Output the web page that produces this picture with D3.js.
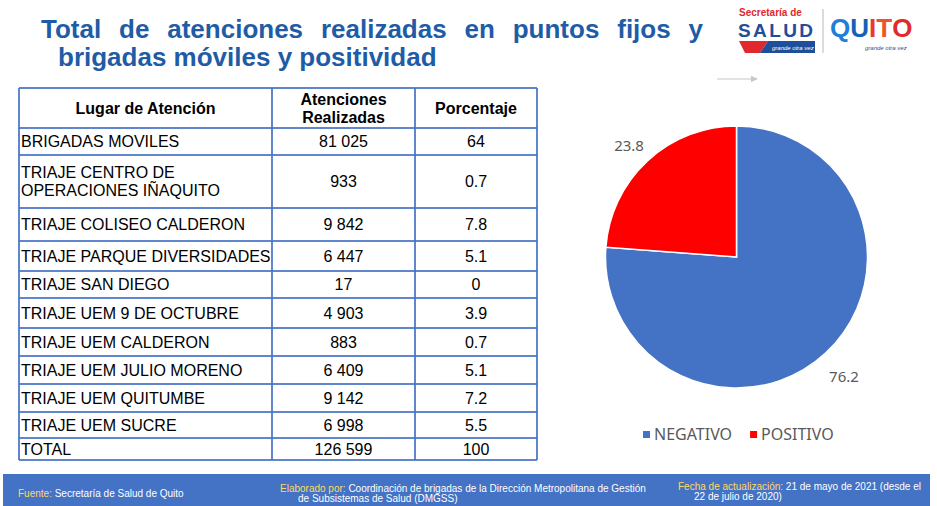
<!DOCTYPE html>
<html>
<head>
<meta charset="utf-8">
<script src="https://cdn.jsdelivr.net/npm/d3@7"></script>
<style>
  body { margin: 0; background: #fff; }
  svg { display: block; }
</style>
</head>
<body>
<div id="chart"></div>
<script>
const svgWidth = 937
const svgHeight = 506

// table data
const lugares = [
  "BRIGADAS MOVILES",
  "TRIAJE CENTRO DE\nOPERACIONES IÑAQUITO",
  "TRIAJE COLISEO CALDERON",
  "TRIAJE PARQUE DIVERSIDADES",
  "TRIAJE SAN DIEGO",
  "TRIAJE UEM 9 DE OCTUBRE",
  "TRIAJE UEM CALDERON",
  "TRIAJE UEM JULIO MORENO",
  "TRIAJE UEM QUITUMBE",
  "TRIAJE UEM SUCRE",
  "TOTAL"
]
const atenciones = [81025, 933, 9842, 6447, 17, 4903, 883, 6409, 9142, 6998, 126599]
const porcentajes = [64, 0.7, 7.8, 5.1, 0, 3.9, 0.7, 5.1, 7.2, 5.5, 100]
const encabezados = ["Lugar de Atención", "Atenciones\nRealizadas", "Porcentaje"]

// pie data
const resultados = ["NEGATIVO", "POSITIVO"]
const positividad = [76.2, 23.8]

// layout of the table (header + rows)
const colEdges = [19, 272, 415, 537]
const rowHeights = [40, 27, 53, 33, 30, 27, 30, 28, 28, 28, 26, 22]
const tableTop = 88

const blue = "#4472C4"
const titleBlue = "#1F5CA6"

const locale = d3.formatLocale({ decimal: ".", thousands: " ", grouping: [3], currency: ["", ""] })
const fmt = locale.format(",")

let svg = d3.select("#chart")
  .append("svg")
  .attr("width", svgWidth)
  .attr("height", svgHeight)
  .style("font-family", "Arial, 'Liberation Sans', sans-serif")

// ---- title, justified first line
const title1 = "Total de atenciones realizadas en puntos fijos y"
const title2 = "brigadas móviles y positividad"
let titleG = svg.append("g")
  .attr("fill", titleBlue)
  .style("font-size", "26px")
  .style("font-weight", "bold")

let words = title1.split(" ")
let wordNodes = words.map(w => titleG.append("text").attr("y", 38).text(w))
let widths = wordNodes.map(n => n.node().getComputedTextLength())
let gap = (703 - 41 - d3.sum(widths)) / (words.length - 1)
let xCursor = 41
wordNodes.forEach((n, i) => {
  n.attr("x", xCursor)
  xCursor += widths[i] + gap
})
titleG.append("text").attr("x", 58).attr("y", 66).text(title2)

// ---- logo
let logo = svg.append("g")
logo.append("text")
  .attr("x", 739).attr("y", 16)
  .attr("fill", "#E0282E")
  .style("font-family", "'Liberation Sans Narrow', 'Arial Narrow', sans-serif")
  .style("font-size", "10px").style("font-weight", "bold")
  .text("Secretaría de")
logo.append("text")
  .attr("x", 738).attr("y", 37)
  .attr("fill", "#1F4E9A")
  .style("font-size", "19px").style("font-weight", "bold")
  .attr("textLength", 75)
  .text("SALUD")
logo.append("path").attr("d", "M739,41 L768,41 L760,53 L745,53 Z").attr("fill", "#E0282E")
logo.append("path").attr("d", "M768,41 L815,41 L815,53 L760,53 Z").attr("fill", "#1F4E9A")
logo.append("text")
  .attr("x", 772).attr("y", 50)
  .attr("fill", "#fff")
  .style("font-size", "6px").style("font-style", "italic")
  .text("grande otra vez")
logo.append("line")
  .attr("x1", 823).attr("x2", 823).attr("y1", 9).attr("y2", 53)
  .attr("stroke", "#b8b8b8")

// QUITO wordmark, one letter per colour
const quitoColors = ["#1E7FD6", "#1560B8", "#E53935", "#F0522A", "#E02A2F"]
let qx = 830
"QUITO".split("").forEach((c, i) => {
  let t = logo.append("text")
    .attr("x", qx).attr("y", 37)
    .attr("fill", quitoColors[i])
    .style("font-size", "26px").style("font-weight", "bold")
    .style("font-family", "'Liberation Sans', Arial, sans-serif")
    .text(c)
  qx += t.node().getComputedTextLength()
})
logo.append("text")
  .attr("x", 865).attr("y", 50)
  .attr("fill", "#1F4E9A")
  .style("font-size", "6px").style("font-style", "italic")
  .text("grande otra vez")

// small arrow under logo
svg.append("defs").append("marker")
  .attr("id", "arrowhead")
  .attr("viewBox", "0 0 10 10")
  .attr("refX", 9).attr("refY", 5)
  .attr("markerWidth", 6).attr("markerHeight", 6)
  .attr("orient", "auto")
  .append("path").attr("d", "M0,0 L10,5 L0,10 Z").attr("fill", "#c8c8c8")
svg.append("line")
  .attr("x1", 717).attr("x2", 757).attr("y1", 79).attr("y2", 79)
  .attr("stroke", "#c8c8c8").attr("stroke-width", 1.2)
  .attr("marker-end", "url(#arrowhead)")

// ---- table
let rowEdges = [tableTop]
rowHeights.forEach(h => rowEdges.push(rowEdges[rowEdges.length - 1] + h))

let table = svg.append("g")

function multiline(sel, txt, cx, cy, anchor, lineH) {
  let lines = txt.split("\n")
  lines.forEach((l, i) => {
    sel.append("text")
      .attr("x", cx)
      .attr("y", cy + (i - (lines.length - 1) / 2) * lineH)
      .attr("dy", "0.36em")
      .attr("text-anchor", anchor)
      .text(l)
  })
}

// header
let header = table.append("g")
  .style("font-size", "16px").style("font-weight", "bold").attr("fill", "#000")
encabezados.forEach((h, i) => {
  let cx = (colEdges[i] + colEdges[i + 1]) / 2
  let cy = (rowEdges[0] + rowEdges[1]) / 2
  multiline(header, h, cx, cy, "middle", 18)
})

// body rows
let body = table.append("g").style("font-size", "16px").attr("fill", "#000")
lugares.forEach((lugar, i) => {
  let cy = (rowEdges[i + 1] + rowEdges[i + 2]) / 2
  multiline(body, lugar, colEdges[0] + 2, cy, "start", 18)
  multiline(body, fmt(atenciones[i]), (colEdges[1] + colEdges[2]) / 2, cy, "middle", 18)
  multiline(body, String(porcentajes[i]), (colEdges[2] + colEdges[3]) / 2, cy, "middle", 18)
})

// grid lines
let grid = table.append("g").attr("stroke", blue).attr("stroke-width", 1.2).attr("shape-rendering", "crispEdges")
rowEdges.forEach(y => {
  grid.append("line")
    .attr("x1", colEdges[0]).attr("x2", colEdges[3])
    .attr("y1", y).attr("y2", y)
    .attr("stroke-opacity", 0.85)
})
colEdges.forEach(x => {
  grid.append("line")
    .attr("x1", x).attr("x2", x)
    .attr("y1", rowEdges[0]).attr("y2", rowEdges[rowEdges.length - 1])
    .attr("stroke-opacity", 0.85)
})

// ---- pie
const cx = 736.5
const cy = 257
const radius = 131

let color = d3.scaleOrdinal().domain(resultados).range([blue, "#FF0000"])
let pie = d3.pie().sort(null).value(d => d.value)
let pieData = pie(resultados.map((r, i) => ({ name: r, value: positividad[i] })))
let arc = d3.arc().innerRadius(0).outerRadius(radius)
let labelArc = d3.arc().innerRadius(158).outerRadius(158)

let pieG = svg.append("g").attr("transform", `translate(${cx}, ${cy})`)
pieG.selectAll("path")
  .data(pieData)
  .enter()
  .append("path")
  .attr("d", arc)
  .attr("fill", d => color(d.data.name))
  .attr("stroke", "#fff")
  .attr("stroke-width", 1.5)

pieG.selectAll("text")
  .data(pieData)
  .enter()
  .append("text")
  .attr("transform", d => {
    let [x, y] = labelArc.centroid(d)
    return `translate(${x}, ${y + 4})`
  })
  .attr("text-anchor", "middle")
  .attr("dy", "0.36em")
  .attr("fill", "#595959")
  .style("font-family", "'Noto Sans', 'DejaVu Sans', sans-serif")
  .style("font-size", "15px")
  .text(d => d.data.value)

// legend
let legend = svg.append("g")
  .style("font-family", "'Noto Sans', 'DejaVu Sans', sans-serif")
  .style("font-size", "16px")
  .attr("fill", "#595959")
let legendX = 643
resultados.forEach(r => {
  legend.append("rect")
    .attr("x", legendX).attr("y", 431)
    .attr("width", 7).attr("height", 7)
    .attr("fill", color(r))
  let t = legend.append("text")
    .attr("x", legendX + 11).attr("y", 440)
    .text(r)
  legendX += 11 + t.node().getComputedTextLength() + 18
})

// ---- footer
svg.append("rect")
  .attr("x", 3).attr("y", 474)
  .attr("width", 927).attr("height", 32)
  .attr("fill", blue)

let footer = svg.append("g")
  .style("font-family", "'Liberation Sans Narrow', 'Arial Narrow', sans-serif")
  .style("font-size", "10px")
  .attr("fill", "#fff")

function footText(x, y, label, rest) {
  let t = footer.append("text").attr("x", x).attr("y", y)
  if (label) t.append("tspan").attr("fill", "#FFD966").text(label)
  t.append("tspan").text(rest)
}
footText(18, 497, "Fuente:", " Secretaría de Salud de Quito")
footText(280, 492, "Elaborado por:", " Coordinación de brigadas de la Dirección Metropolitana de Gestión")
footText(298, 502, null, "de Subsistemas de Salud (DMGSS)")
footText(678, 490, "Fecha de actualización:", " 21 de mayo de 2021 (desde el")
footText(694, 500, null, "22 de julio de 2020)")
</script>
</body>
</html>
